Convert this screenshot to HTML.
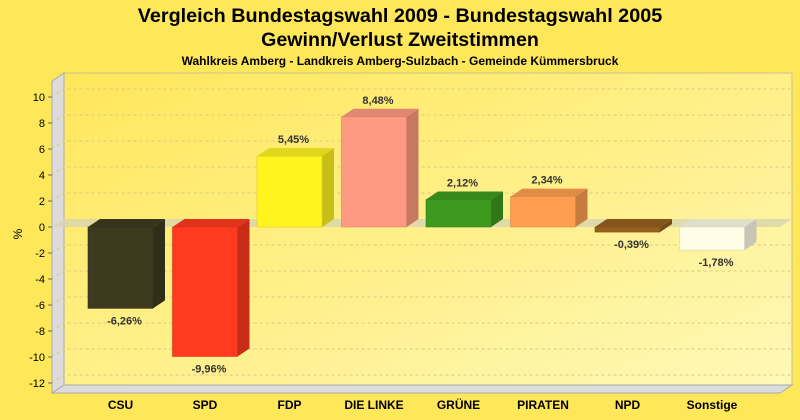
<!DOCTYPE html>
<html><head><meta charset="utf-8"><style>
body{margin:0;background:#ffe75a;}
svg{display:block;font-family:"Liberation Sans",sans-serif;}
</style></head><body>
<svg id="c" width="800" height="420" viewBox="0 0 800 420">
<defs>
<linearGradient id="bg" x1="0" y1="0" x2="1" y2="1"><stop offset="0" stop-color="#ffe75a"/><stop offset="1" stop-color="#fff8b8"/></linearGradient>
</defs>
<text x="400" y="22" text-anchor="middle" font-size="19.8" font-weight="bold">Vergleich Bundestagswahl 2009 - Bundestagswahl 2005</text>
<text x="400" y="46" text-anchor="middle" font-size="19.6" font-weight="bold">Gewinn/Verlust Zweitstimmen</text>
<text x="400" y="65" text-anchor="middle" font-size="12" font-weight="bold">Wahlkreis Amberg - Landkreis Amberg-Sulzbach - Gemeinde Kümmersbruck</text>
<rect x="64" y="73" width="728" height="312" fill="url(#bg)" stroke="#c8c090"/>
<polygon points="52,81 64,73 64,385 52,393" fill="#dcdcdc" stroke="#aaa"/>
<polygon points="52,393 64,385 792,385 780,393" fill="#dcdcdc" stroke="#aaa"/>
<g id="grid"></g>
<g id="bars"></g>
<text transform="translate(22,234) rotate(-90)" text-anchor="middle" font-size="12">%</text>
</svg>
<script>
const categories=["CSU","SPD","FDP","DIE LINKE","GRÜNE","PIRATEN","NPD","Sonstige"];
const values=[-6.26,-9.96,5.45,8.48,2.12,2.34,-0.39,-1.78];
const labels=["-6,26%","-9,96%","5,45%","8,48%","2,12%","2,34%","-0,39%","-1,78%"];
const colors=["#3e3a20","#ff3a1e","#fff41e","#ff9a82","#3e9a1e","#ff9e50","#96601e","#fffde6"];
const ticks=[10,8,6,4,2,0,-2,-4,-6,-8,-10,-12];
const NS="http://www.w3.org/2000/svg";
const y=v=>227-13*v;
const x=i=>120.5+84.5*i;
const DX=12,DY=8,W=65;
function mk(t,a,p){const e=document.createElementNS(NS,t);for(const k in a)e.setAttribute(k,a[k]);p.appendChild(e);return e;}
function shade(h,f){const n=parseInt(h.slice(1),16);let r=n>>16,g=(n>>8)&255,b=n&255;return `rgb(${Math.round(r*f)},${Math.round(g*f)},${Math.round(b*f)})`;}
const G=document.getElementById('grid'),B=document.getElementById('bars');
ticks.forEach(t=>{
 const yy=y(t);
 if(t!==0){const l=mk('polyline',{points:`52,${yy} 64,${yy-DY} 792,${yy-DY}`,fill:'none',stroke:'#d8cc80','stroke-dasharray':'3,3'},G);
 
 }
 const tk=mk('line',{x1:48,x2:52,y1:yy,y2:yy,stroke:'#666'},G);
 
 
 const tx=mk('text',{x:45,y:yy+4,'text-anchor':'end','font-size':11},G);tx.textContent=t;
 
 
});
const z=mk('polygon',{points:`52,${y(0)} 64,${y(0)-DY} 792,${y(0)-DY} 780,${y(0)}`,fill:'#d8d4b0',opacity:0.8},G);


values.forEach((v,i)=>{
 const x0=x(i)-W/2,x1=x0+W,yt=Math.min(y(v),y(0)),yb=Math.max(y(v),y(0));
 const g=mk('g',{},B);
 
 
 mk('polygon',{points:`${x1},${yt} ${x1+DX},${yt-DY} ${x1+DX},${yb-DY} ${x1},${yb}`,fill:shade(colors[i],0.78)},g);
 mk('polygon',{points:`${x0},${yt} ${x0+DX},${yt-DY} ${x1+DX},${yt-DY} ${x1},${yt}`,fill:shade(colors[i],0.88)},g);
 mk('rect',{x:x0,y:yt,width:W,height:yb-yt,fill:colors[i],stroke:shade(colors[i],0.85),'stroke-width':0.6},g);
 const ly=v>=0?yt-DY-5:yb+16;
 const lt=mk('text',{x:x(i)+4,y:ly,'text-anchor':'middle','font-size':11,'font-weight':'bold',fill:'#333'},B);lt.textContent=labels[i];
 
 
 const ct=mk('text',{x:x(i),y:409,'text-anchor':'middle','font-size':12,'font-weight':'bold'},B);ct.textContent=categories[i];
 
 
});
</script>
</body></html>
